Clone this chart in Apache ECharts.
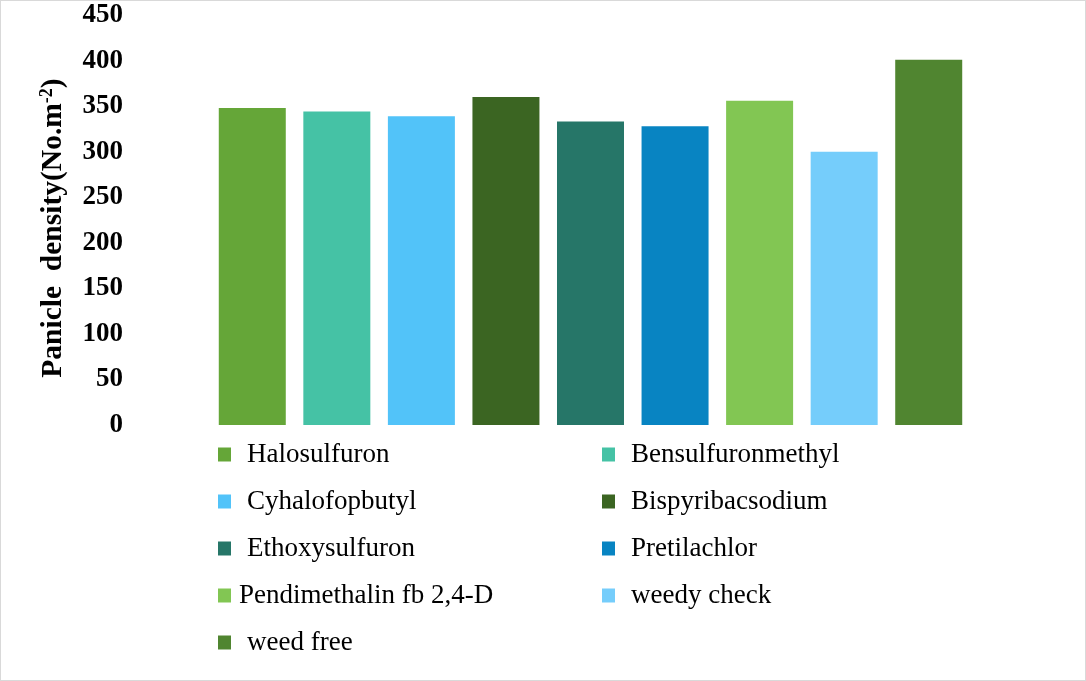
<!DOCTYPE html>
<html>
<head>
<meta charset="utf-8">
<script src="https://cdn.jsdelivr.net/npm/echarts@6/dist/echarts.min.js"></script>
<style>
	html, body { margin: 0; padding: 0; background: #fff; }
	#chart { width: 1086px; height: 681px; border: 1px solid #d9d9d9; box-sizing: border-box; }
</style>
</head>
<body>
<div id="chart"></div>
<script>
var treatments = ['Halosulfuron', 'Bensulfuronmethyl', 'Cyhalofopbutyl', 'Bispyribacsodium',
	'Ethoxysulfuron', 'Pretilachlor', 'Pendimethalin fb 2,4-D', 'weedy check', 'weed free'];
var density = [348, 344, 339, 360, 333, 328, 356, 300, 401];
var colors = ['#65a638', '#45c2a5', '#52c3f9', '#3b6522', '#267668', '#0884c2', '#82c653', '#75cdfb', '#508530'];
var yTicks = [0, 50, 100, 150, 200, 250, 300, 350, 400, 450];

(function(){
	var myChart = echarts.init(document.getElementById('chart'));
	var serif = '"Liberation Serif", "Times New Roman", serif';

	var series = treatments.map(function(name, i){
		var data = treatments.map(function(t, j){ return j === i ? density[i] : '-'; });
		return {
			name: name,
			type: 'bar',
			stack: 'all',
			barWidth: 67,
			itemStyle: { color: colors[i] },
			data: data
		};
	});

	var legendFont = { fontFamily: serif, fontSize: 27, color: '#000', lineHeight: 26 };
	var legendBase = {
		orient: 'vertical',
		icon: 'rect',
		itemWidth: 13,
		itemHeight: 14,
		itemGap: 20,
		top: 440,
		padding: 0,
		selectedMode: false,
		formatter: function(n){ return (n === 'Pendimethalin fb 2,4-D' ? '{p|' : '{q|') + n + '}'; },
		textStyle: Object.assign({}, legendFont, {
			rich: {
				p: Object.assign({ padding: [0, 0, 0, 3] }, legendFont),
				q: Object.assign({ padding: [0, 0, 0, 11] }, legendFont)
			}
		})
	};

	var option = {
		animation: false,
		grid: { left: 209, right: 114, top: 14, height: 410 },
		legend: [
			Object.assign({}, legendBase, { left: 217, data: [treatments[0], treatments[2], treatments[4], treatments[6], treatments[8]] }),
			Object.assign({}, legendBase, { left: 601, data: [treatments[1], treatments[3], treatments[5], treatments[7]] })
		],
		xAxis: {
			type: 'category',
			data: treatments,
			axisLine: { show: false },
			axisTick: { show: false },
			axisLabel: { show: false }
		},
		yAxis: {
			type: 'value',
			min: yTicks[0],
			max: yTicks[yTicks.length - 1],
			interval: 50,
			splitLine: { show: false },
			axisLine: { show: false },
			axisTick: { show: false },
			axisLabel: { fontFamily: serif, fontSize: 27, fontWeight: 'bold', color: '#000', margin: 87 },
			name: '{a|Panicle  density(No.m}{s|-2}{a|)}',
			nameLocation: 'middle',
			nameGap: 142,
			nameTextStyle: {
				padding: [0, 16, 0, 0],
				rich: {
					a: { fontFamily: serif, fontSize: 29.5, fontWeight: 'bold', color: '#000' },
					s: { fontFamily: serif, fontSize: 18, fontWeight: 'bold', color: '#000', verticalAlign: 'top', padding: [0, 0, 12, 0] }
				}
			}
		},
		series: series
	};
	myChart.setOption(option);
})();
</script>
</body>
</html>
